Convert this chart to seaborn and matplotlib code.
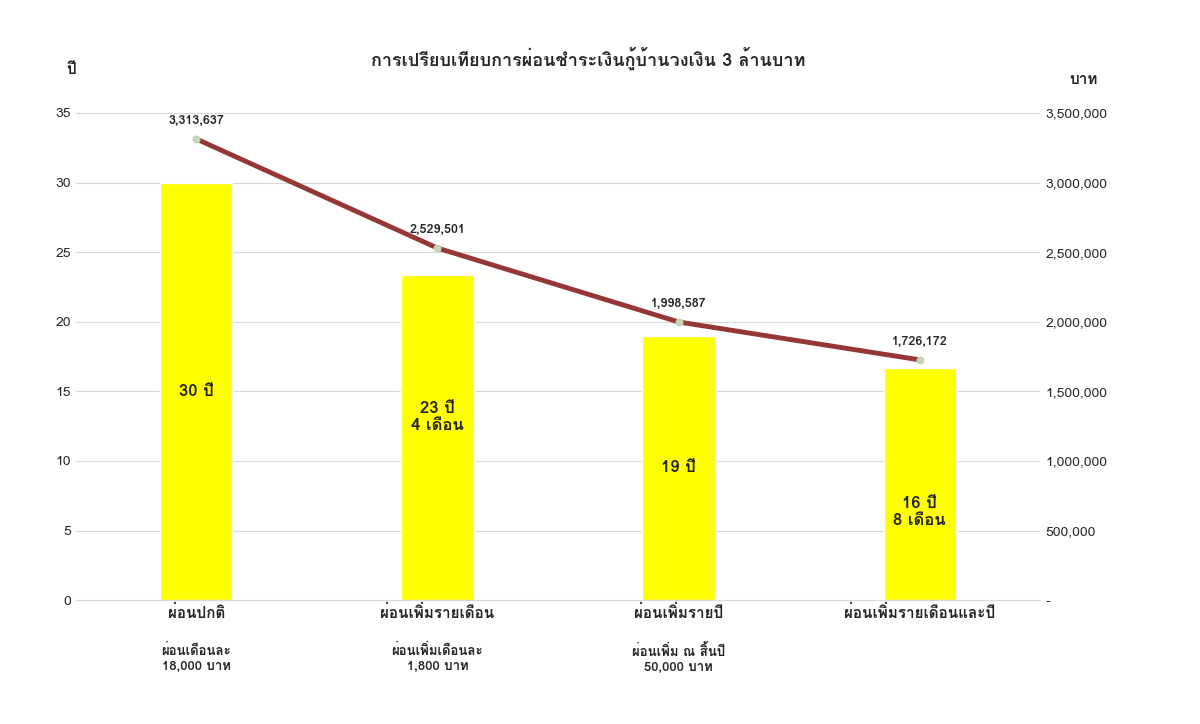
import matplotlib.pyplot as plt
import seaborn as sns
import numpy as np
from matplotlib.ticker import FuncFormatter
from matplotlib import font_manager
from matplotlib.ft2font import FT2Font

sns.set_style("white")

# look for any installed family that has Thai glyphs
thai = []
for f in font_manager.fontManager.ttflist:
    try:
        if ord('ก') in FT2Font(f.fname).get_charmap() and f.name not in thai:
            thai.append(f.name)
    except Exception:
        pass
plt.rcParams['font.family'] = thai[:1] + ['Noto Sans', 'DejaVu Sans']

cats = ['ผ่อนปกติ', 'ผ่อนเพิ่มรายเดือน', 'ผ่อนเพิ่มรายปี', 'ผ่อนเพิ่มรายเดือนและปี']
subs = ['ผ่อนเดือนละ\n18,000 บาท', 'ผ่อนเพิ่มเดือนละ\n1,800 บาท', 'ผ่อนเพิ่ม ณ สิ้นปี\n50,000 บาท', '']
years = [30, 23.33, 19, 16.67]
bar_labels = ['30 ปี', '23 ปี\n4 เดือน', '19 ปี', '16 ปี\n8 เดือน']
total = [3313637, 2529501, 1998587, 1726172]

fig, ax = plt.subplots(figsize=(12, 7.24), dpi=100)
fig.subplots_adjust(left=0.063, right=0.867, top=0.844, bottom=0.171)
x = np.arange(len(cats))
sns.barplot(x=x, y=years, color='#FFFF00', saturation=1, width=0.3, ax=ax)
ax.set_ylim(0, 35)
ax.set_yticks(range(0, 36, 5))
ax.yaxis.grid(True, color='#d9d9d9')
ax.set_axisbelow(True)
for s in ['top', 'right', 'left']:
    ax.spines[s].set_visible(False)
ax.spines['bottom'].set_color('#d9d9d9')
ax.tick_params(length=0, labelsize=10)
ax.set_xticks(x)
ax.set_xticklabels(cats, fontsize=11, fontweight='bold')
for i, s in enumerate(subs):
    ax.text(i, -0.09, s, transform=ax.get_xaxis_transform(), ha='center', va='top',
            fontsize=9.5, fontweight='bold')
for i, (v, l) in enumerate(zip(years, bar_labels)):
    ax.text(i, 15 if i == 0 else v / 2 + (1.5 if i == 1 else 0 if i == 2 else -2), l,
            ha='center', va='center', fontsize=12, fontweight='bold')
ax.text(-0.01, 1.08, 'ปี', transform=ax.transAxes, fontsize=11, fontweight='bold')

ax2 = ax.twinx()
sns.lineplot(x=x, y=total, color='#953735', linewidth=3.5, marker='o', markersize=5,
             markerfacecolor='#c8d4b8', markeredgecolor='#c8d4b8', ax=ax2)
ax2.set_ylim(0, 3500000)
ax2.set_yticks(range(0, 3500001, 500000))
ax2.yaxis.set_major_formatter(FuncFormatter(lambda v, p: '-' if v == 0 else f'{int(v):,}'))
for s in ax2.spines.values():
    s.set_visible(False)
ax2.tick_params(length=0, labelsize=10)
for i, v in enumerate(total):
    ax2.text(i, v + 90000, f'{v:,}', ha='center', va='bottom', fontsize=9, fontweight='bold')
ax2.text(1.03, 1.06, 'บาท', transform=ax2.transAxes, fontsize=11, fontweight='bold')
ax.set_xlim(-0.5, 3.5)

fig.suptitle('การเปรียบเทียบการผ่อนชำระเงินกู้บ้านวงเงิน 3 ล้านบาท', fontsize=13, fontweight='bold', y=0.935, x=0.49)
fig.savefig('out.png')
